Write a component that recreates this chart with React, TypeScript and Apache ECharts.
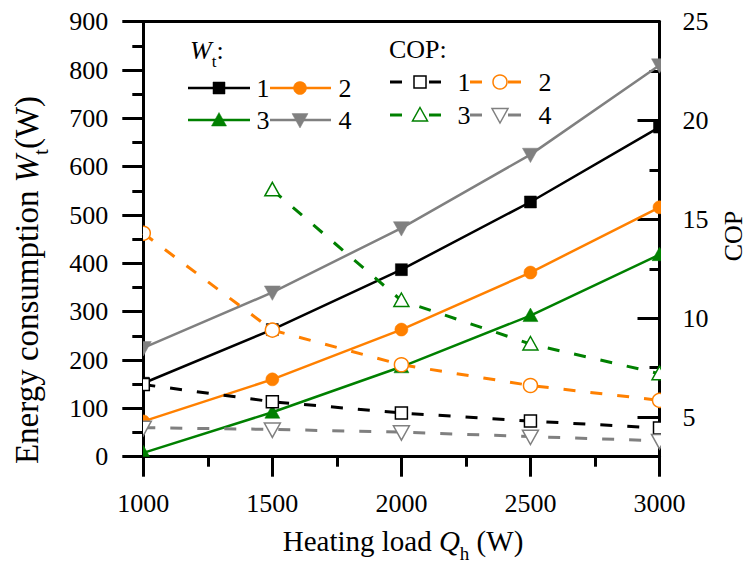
import React, { useEffect, useRef } from 'react';
import * as echarts from 'echarts';

const heatingLoad = [1000, 1500, 2000, 2500, 3000];
const w1 = [152, 263, 387, 527, 682];
const w2 = [73, 160, 263, 381, 516];
const w3 = [8, 92, 186, 292, 418];
const w4 = [225, 340, 473, 625, 810];
const cop1 = [6.65, 5.78, 5.21, 4.8, 4.45];
const cop2 = [14.3, 9.4, 7.65, 6.6, 5.85];
const cop3: (number | null)[] = [null, 16.5, 10.9, 8.7, 7.2];
const cop4 = [4.47, 4.38, 4.24, 4.02, 3.8];
const rightMajorTicks = [5, 10, 15, 20, 25];
const rightMinorTicks = [7.5, 12.5, 17.5, 22.5];

const BLACK = '#000000';
const ORANGE = '#FF8000';
const GREEN = '#008000';
const GRAY = '#808080';
const FONT = "'Liberation Serif', 'Times New Roman', serif";

type Shape = 'square' | 'circle' | 'up' | 'down';

function markerEl(shape: Shape, cx: number, cy: number, size: number, color: string, hollow: boolean) {
  const h = size / 2;
  const style = hollow
    ? { fill: '#ffffff', stroke: color, lineWidth: 1.5 }
    : { fill: color, stroke: color, lineWidth: 0.5 };
  if (shape === 'square') return { type: 'rect', shape: { x: cx - h, y: cy - h, width: size, height: size }, style };
  if (shape === 'circle') return { type: 'circle', shape: { cx, cy, r: h }, style };
  if (shape === 'up') return { type: 'polygon', shape: { points: [[cx, cy - h], [cx + h, cy + h * 0.8], [cx - h, cy + h * 0.8]] }, style };
  return { type: 'polygon', shape: { points: [[cx - h, cy - h * 0.8], [cx + h, cy - h * 0.8], [cx, cy + h]] }, style };
}

function pairs(vals: (number | null)[]) {
  return heatingLoad.map((x, i) => [x, vals[i]]).filter((d) => d[1] !== null);
}

function lineSeries(name: string, vals: (number | null)[], yAxisIndex: number, color: string, dashed: boolean, z: number) {
  return {
    type: 'line', name, yAxisIndex, data: pairs(vals), showSymbol: false, symbol: 'none', clip: true, z,
    lineStyle: { color, width: dashed ? 3 : 2.5, type: dashed ? [12, 15] : 'solid' },
    silent: true,
  };
}

function markerSeries(name: string, vals: (number | null)[], yAxisIndex: number, shape: Shape, color: string, size: number, hollow: boolean, z: number) {
  return {
    type: 'custom', name: name + '-m', yAxisIndex, clip: true, z, silent: true,
    data: pairs(vals),
    encode: { x: 0, y: 1 },
    renderItem: (_params: any, api: any) => {
      const p = api.coord([api.value(0), api.value(1)]);
      return markerEl(shape, p[0], p[1], size, color, hollow);
    },
  };
}

function legendText(text: string, x: number, y: number) {
  return {
    type: 'text', x, y,
    style: { text, fontSize: 26, fontFamily: FONT, fill: '#000', align: 'center', verticalAlign: 'middle', textAlign: 'center', textVerticalAlign: 'middle' },
  };
}

function seg(x1: number, x2: number, y: number, color: string, w: number) {
  return { type: 'line', shape: { x1, y1: y, x2, y2: y }, style: { stroke: color, lineWidth: w } };
}

const X_TITLE_SIZE = 29;
const Y_TITLE_SIZE = 33;
const xTitleRich = {
  it: { fontSize: X_TITLE_SIZE, fontFamily: FONT, fontStyle: 'italic' },
  sub: { fontSize: 19, fontFamily: FONT, padding: [24, 0, 0, 0] },
};
const yTitleRich = {
  it: { fontSize: Y_TITLE_SIZE, fontFamily: FONT, fontStyle: 'italic' },
  sub: { fontSize: 21, fontFamily: FONT, padding: [28, 0, 0, 0] },
};

export default function App() {
  const ref = useRef<HTMLDivElement>(null);
  useEffect(() => {
    if (!ref.current) return;
    const chart = echarts.init(ref.current, undefined, { renderer: 'svg' });
    const axisLineStyle = { color: '#000', width: 3 };
    const labelStyle = { fontSize: 26, fontFamily: FONT, color: '#000', formatter: (v: number) => String(v) };

    const graphic: any[] = [
      // Axis titles
      {
        type: 'text', x: 403, y: 541,
        style: {
          text: 'Heating load {it|Q}{sub|h} (W)', fontSize: X_TITLE_SIZE, fontFamily: FONT, fill: '#000',
          align: 'center', verticalAlign: 'middle', textAlign: 'center', textVerticalAlign: 'middle',
          rich: xTitleRich,
        },
      },
      {
        type: 'text', x: 27, y: 280, rotation: Math.PI / 2,
        style: {
          text: 'Energy consumption {it|W}{sub|t}(W)', fontSize: Y_TITLE_SIZE, fontFamily: FONT, fill: '#000',
          align: 'center', verticalAlign: 'middle', textAlign: 'center', textVerticalAlign: 'middle',
          rich: yTitleRich,
        },
      },
      {
        type: 'text', x: 733, y: 236, rotation: Math.PI / 2,
        style: { text: 'COP', fontSize: 26, fontFamily: FONT, fill: '#000', align: 'center', verticalAlign: 'middle', textAlign: 'center', textVerticalAlign: 'middle' },
      },
      // Legend headers
      {
        type: 'text', x: 190, y: 50,
        style: {
          text: '{it|W}{sub|t}{n|:}', fontSize: 26, fontFamily: FONT, fill: '#000',
          align: 'left', verticalAlign: 'middle', textAlign: 'left', textVerticalAlign: 'middle',
          rich: {
            it: { fontSize: 26, fontFamily: FONT, fontStyle: 'italic' },
            sub: { fontSize: 17, fontFamily: FONT, padding: [22, 0, 0, 0] },
            n: { fontSize: 26, fontFamily: FONT },
          },
        },
      },
      {
        type: 'text', x: 389, y: 49,
        style: { text: 'COP:', fontSize: 26, fontFamily: FONT, fill: '#000', align: 'left', verticalAlign: 'middle', textAlign: 'left', textVerticalAlign: 'middle' },
      },
      // W legend
      seg(188, 250, 88, BLACK, 2.5), markerEl('square', 219, 88, 12, BLACK, false), legendText('1', 263, 88),
      seg(270, 331, 88, ORANGE, 2.5), markerEl('circle', 300, 88, 13, ORANGE, false), legendText('2', 345, 88),
      seg(188, 250, 120, GREEN, 2.5), markerEl('up', 219, 120, 15, GREEN, false), legendText('3', 263, 120),
      seg(270, 331, 120, GRAY, 2.5), markerEl('down', 300, 120, 16, GRAY, false), legendText('4', 345, 120),
      // COP legend
      seg(390, 402, 82, BLACK, 3), seg(429, 441, 82, BLACK, 3), markerEl('square', 420, 82, 12, BLACK, true), legendText('1', 464, 82),
      seg(470, 482, 82, ORANGE, 3), seg(508, 521, 82, ORANGE, 3), markerEl('circle', 500, 82, 14, ORANGE, true), legendText('2', 545, 82),
      seg(390, 402, 115, GREEN, 3), seg(429, 441, 115, GREEN, 3), markerEl('up', 420, 115, 15, GREEN, true), legendText('3', 464, 115),
      seg(470, 482, 115, GRAY, 3), seg(508, 521, 115, GRAY, 3), markerEl('down', 500, 115, 16, GRAY, true), legendText('4', 545, 115),
    ];

    chart.setOption({
      animation: false,
      backgroundColor: '#ffffff',
      grid: { left: 143.3, right: 87.5, top: 21.7, bottom: 106.3, containLabel: false },
      xAxis: [
        {
          type: 'value', position: 'bottom', min: 1000, max: 3000, interval: 500,
          axisLine: { show: true, onZero: false, lineStyle: axisLineStyle },
          axisTick: { show: true, inside: false, length: 20, lineStyle: axisLineStyle },
          minorTick: { show: true, splitNumber: 2, length: 10, lineStyle: axisLineStyle },
          axisLabel: { ...labelStyle, margin: 34, showMinLabel: true, showMaxLabel: true },
          splitLine: { show: false },
        },
        {
          type: 'value', position: 'top', min: 1000, max: 3000, interval: 500,
          axisLine: { show: true, onZero: false, lineStyle: axisLineStyle },
          axisTick: { show: false }, axisLabel: { show: false }, splitLine: { show: false },
        },
      ],
      yAxis: [
        {
          type: 'value', position: 'left', min: 0, max: 900, interval: 100,
          axisLine: { show: true, onZero: false, lineStyle: axisLineStyle },
          axisTick: { show: true, inside: false, length: 21, lineStyle: axisLineStyle },
          minorTick: { show: true, splitNumber: 2, length: 11, lineStyle: axisLineStyle },
          axisLabel: { ...labelStyle, margin: 35 },
          splitLine: { show: false },
        },
        {
          type: 'value', position: 'right', min: 3, max: 25,
          axisLine: { show: true, onZero: false, lineStyle: axisLineStyle },
          axisTick: { show: true, inside: true, length: 22, lineStyle: axisLineStyle, customValues: rightMajorTicks },
          axisLabel: { ...labelStyle, margin: 23, customValues: rightMajorTicks },
          splitLine: { show: false },
        },
        {
          type: 'value', position: 'right', min: 3, max: 25,
          axisLine: { show: false },
          axisTick: { show: true, inside: true, length: 10, lineStyle: axisLineStyle, customValues: rightMinorTicks },
          axisLabel: { show: false, customValues: rightMinorTicks },
          splitLine: { show: false },
        },
      ],
      series: [
        lineSeries('W1', w1, 0, BLACK, false, 2),
        markerSeries('W1', w1, 0, 'square', BLACK, 12, false, 3),
        lineSeries('W2', w2, 0, ORANGE, false, 2),
        markerSeries('W2', w2, 0, 'circle', ORANGE, 13, false, 3),
        lineSeries('W3', w3, 0, GREEN, false, 2),
        markerSeries('W3', w3, 0, 'up', GREEN, 15, false, 3),
        lineSeries('W4', w4, 0, GRAY, false, 2),
        markerSeries('W4', w4, 0, 'down', GRAY, 16, false, 3),
        lineSeries('COP1', cop1, 1, BLACK, true, 4),
        markerSeries('COP1', cop1, 1, 'square', BLACK, 12, true, 5),
        lineSeries('COP2', cop2, 1, ORANGE, true, 4),
        markerSeries('COP2', cop2, 1, 'circle', ORANGE, 14, true, 5),
        lineSeries('COP3', cop3, 1, GREEN, true, 4),
        markerSeries('COP3', cop3, 1, 'up', GREEN, 15, true, 5),
        lineSeries('COP4', cop4, 1, GRAY, true, 4),
        markerSeries('COP4', cop4, 1, 'down', GRAY, 16, true, 5),
      ],
      graphic,
    });
    return () => chart.dispose();
  }, []);

  return (
    <div
      ref={ref}
      style={{ position: 'absolute', left: 0, top: 0, width: 747, height: 563, background: '#fff' }}
    />
  );
}
